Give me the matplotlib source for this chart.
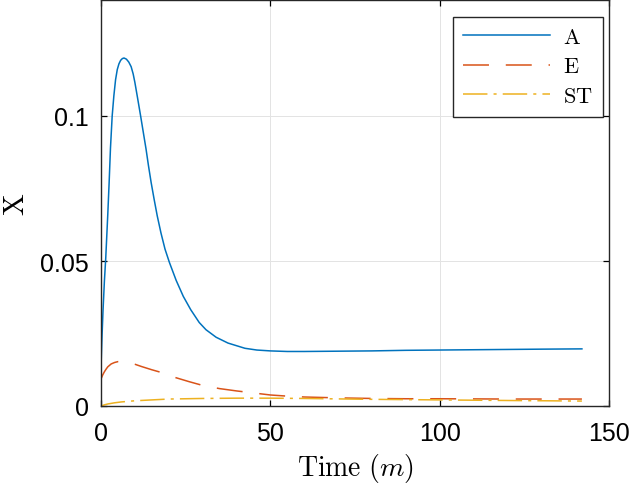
import matplotlib
matplotlib.use("Agg")
import matplotlib.pyplot as plt

# Data
t_A = [0, 0.3, 0.6, 1.0, 1.4, 2.0, 2.4, 2.8, 3.3, 3.8, 4.3, 4.8, 5.3, 5.8, 6.3, 6.8,
       7.5, 8.2, 8.9, 9.5, 10.0, 10.8, 11.7, 12.5, 13.3, 14.0, 14.8, 15.7, 16.6, 17.7,
       18.9, 20.2, 22.2, 24.3, 26.5, 29, 31, 34, 37.5, 42.5, 46, 50, 55, 60, 70, 80,
       90, 100, 110, 120, 130, 142]
A = [0.0134, 0.0240, 0.0330, 0.0430, 0.0510, 0.0660, 0.0770, 0.0890, 0.1000, 0.1070,
     0.1125, 0.1160, 0.1180, 0.1192, 0.1198, 0.1200, 0.1196, 0.1186, 0.1170, 0.1145,
     0.1116, 0.1062, 0.1000, 0.0943, 0.0886, 0.0830, 0.0771, 0.0712, 0.0656, 0.0597,
     0.0541, 0.0495, 0.0433, 0.0378, 0.0332, 0.0288, 0.0263, 0.0237, 0.0217, 0.0199,
     0.0193, 0.0190, 0.0188, 0.0188, 0.0189, 0.0190, 0.0192, 0.0193, 0.0194, 0.0195,
     0.0196, 0.0197]

t_E = [0, 0.5, 1, 1.5, 2, 3, 4, 5, 6, 7, 8, 10, 12, 15, 18, 22, 26, 30, 35, 40, 45,
       50, 55, 60, 70, 80, 90, 100, 120, 142]
E = [0.0093, 0.0107, 0.0118, 0.0127, 0.0135, 0.0145, 0.0150, 0.0153, 0.0153, 0.0152,
     0.0150, 0.0144, 0.0136, 0.0125, 0.0115, 0.0098, 0.0084, 0.0071, 0.0060, 0.0052,
     0.0045, 0.0038, 0.0034, 0.0031, 0.0028, 0.0026, 0.0025, 0.0025, 0.0024, 0.0024]

t_ST = [0, 1, 2, 4, 6, 10, 15, 20, 30, 40, 50, 60, 80, 100, 120, 142]
ST = [0.0, 0.0004, 0.0007, 0.0011, 0.0014, 0.0018, 0.0021, 0.0024, 0.0026, 0.0027,
      0.0027, 0.0026, 0.0023, 0.0021, 0.0019, 0.0017]

x_ticks = [0, 50, 100, 150]
y_ticks = [0, 0.05, 0.1]
y_tick_labels = ["0", "0.05", "0.1"]
series_labels = [r"$\mathrm{A}$", r"$\mathrm{E}$", r"$\mathrm{ST}$"]

plt.rcParams["mathtext.fontset"] = "cm"
plt.rcParams["font.family"] = ["Liberation Sans", "DejaVu Sans"]

W, H = 629, 485
fig = plt.figure(figsize=(W / 100, H / 100), dpi=100)
ax = fig.add_axes([101 / W, 1 - 407 / H, (609 - 101) / W, (407 - 1) / H])

lA, = ax.plot(t_A, A, color="#0072BD", lw=1.1, label=series_labels[0])
lE, = ax.plot(t_E, E, color="#D95319", lw=1.1, label=series_labels[1])
lE.set_dashes((17, 11))
lS, = ax.plot(t_ST, ST, color="#EDB120", lw=1.1, label=series_labels[2])
lS.set_dashes((16, 4, 2, 4))

ax.set_xlim(0, 150)
ax.set_ylim(0, 0.14)
ax.set_xticks(x_ticks)
ax.set_yticks(y_ticks)
ax.set_yticklabels(y_tick_labels)
ax.grid(True, color="#e3e3e3", lw=0.7)
ax.set_axisbelow(True)
ax.tick_params(direction="in", length=4, width=0.9, labelsize=18,
               top=True, right=True, colors="black")
ax.tick_params(axis="x", pad=11)
ax.tick_params(axis="y", pad=9)
for s in ax.spines.values():
    s.set_linewidth(1.0)
    s.set_color("#262626")

ax.set_xlabel(r"$\mathrm{Time}\ (m)$", fontsize=20, labelpad=4)
ax.set_ylabel(r"$\mathrm{X}$", fontsize=21, labelpad=7)

leg = ax.legend(loc="upper right", bbox_to_anchor=(603 / W, 1 - 18 / H),
                bbox_transform=fig.transFigure, borderaxespad=0,
                fontsize=16, handlelength=3.9, handletextpad=0.6,
                labelspacing=0.38, borderpad=0.45, fancybox=False,
                framealpha=1, edgecolor="#262626")
leg.get_frame().set_linewidth(1.0)

fig.savefig("out.png", dpi=100)
